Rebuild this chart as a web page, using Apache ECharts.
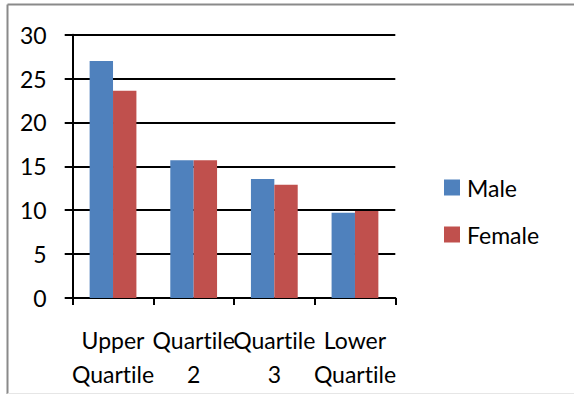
<!DOCTYPE html>
<html>
<head>
<meta charset="utf-8">
<script src="https://cdn.jsdelivr.net/npm/echarts@6/dist/echarts.min.js"></script>
<style>
  html, body { margin: 0; padding: 0; background: #fff; }
  #chart { width: 574px; height: 394px; }
  #chart, #chart text { font-variant-ligatures: none; font-feature-settings: "liga" 0, "clig" 0; }
</style>
</head>
<body>
<div id="chart"></div>
<script>
// Groups along the x axis
const categories = ['Upper\nQuartile', 'Quartile\n2', 'Quartile\n3', 'Lower\nQuartile'];
// Values per group
const maleValues = [27.0, 15.7, 13.55, 9.7];
const femaleValues = [23.6, 15.7, 12.9, 9.9];
// Value axis ticks
const yMin = 0;
const yMax = 30;
const yStep = 5;

const FONT = 'Lato';
const FONT_SIZE = 23;
const chart = echarts.init(document.getElementById('chart'), null, { renderer: 'svg' });

chart.setOption({
  backgroundColor: '#ffffff',
  animation: false,
  textStyle: { fontFamily: FONT, color: '#000' },
  grid: { left: 72.7, right: 178.7, top: 34.7, bottom: 96, containLabel: false },
  legend: {
    orient: 'vertical',
    left: 439,
    top: 171,
    itemWidth: 16,
    itemHeight: 16,
    itemGap: 24,
    icon: 'rect',
    textStyle: { fontFamily: FONT, fontSize: FONT_SIZE, color: '#000', padding: [0, 0, 0, 2] },
    data: ['Male', 'Female']
  },
  xAxis: {
    type: 'category',
    data: categories,
    boundaryGap: true,
    axisLine: { lineStyle: { color: '#000', width: 2 } },
    axisTick: { show: true, length: 7, lineStyle: { color: '#000', width: 2 } },
    axisLabel: {
      interval: 0,
      margin: 25,
      fontFamily: FONT,
      fontSize: FONT_SIZE,
      lineHeight: 34,
      color: '#000'
    }
  },
  yAxis: {
    type: 'value',
    min: yMin,
    max: yMax,
    interval: yStep,
    axisLine: { show: true, lineStyle: { color: '#000', width: 2 } },
    axisTick: { show: true, length: 8, lineStyle: { color: '#000', width: 2 } },
    splitLine: { show: true, lineStyle: { color: '#000', width: 2 } },
    axisLabel: { margin: 26, fontFamily: FONT, fontSize: FONT_SIZE, color: '#000' }
  },
  series: [
    {
      name: 'Male',
      type: 'bar',
      data: maleValues,
      barGap: '0%',
      barCategoryGap: '42%',
      itemStyle: { color: '#4F81BD' }
    },
    {
      name: 'Female',
      type: 'bar',
      data: femaleValues,
      barGap: '0%',
      barCategoryGap: '42%',
      itemStyle: { color: '#C0504D' }
    }
  ],
  graphic: [
    // outer frame: left and top edges, faint bottom edge
    { type: 'line', shape: { x1: 7.5, y1: 4.5, x2: 7.5, y2: 394 }, style: { stroke: '#8a8a8a', lineWidth: 2 } },
    { type: 'line', shape: { x1: 7.5, y1: 4.5, x2: 574, y2: 4.5 }, style: { stroke: '#8a8a8a', lineWidth: 2 } },
    { type: 'line', shape: { x1: 7.5, y1: 393.5, x2: 574, y2: 393.5 }, style: { stroke: '#e6e6e6', lineWidth: 1 } }
  ]
});
</script>
</body>
</html>
